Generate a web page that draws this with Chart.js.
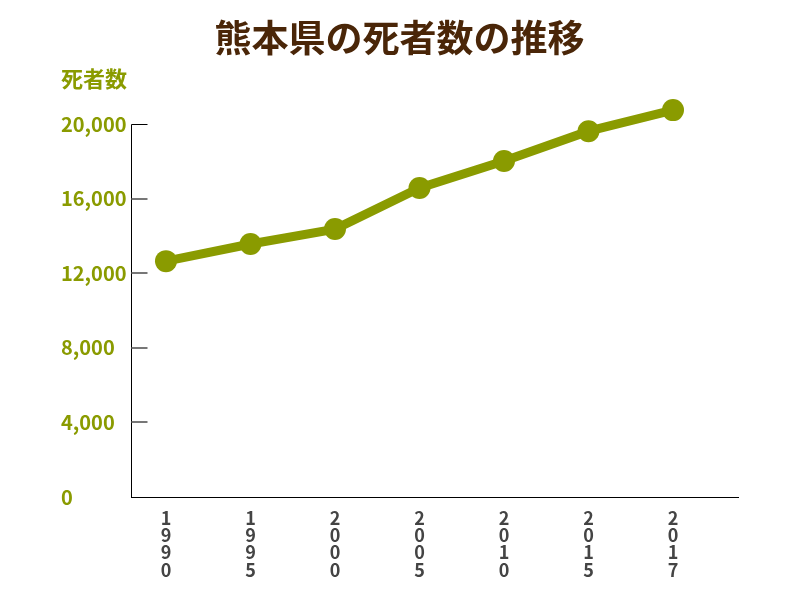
<!DOCTYPE html>
<html lang="ja">
<head>
    <meta charset="UTF-8">
    <title>熊本県の死者数の推移</title>
    <script src="https://cdn.jsdelivr.net/npm/chart.js"></script>
    <style>
        body { margin: 0; background: #fff; }
        .chart-container { width: 800px; height: 600px; }
    </style>
</head>
<body>
    <div class="chart-container">
        <canvas id="deathChart"></canvas>
    </div>

    <script>
        // data
        const years = ['1990', '1995', '2000', '2005', '2010', '2015', '2017'];
        const deaths = [12650, 13570, 14370, 16570, 18020, 19620, 20750];
        const yTickValues = [0, 4000, 8000, 12000, 16000, 20000];

        const olive = '#8a9b00';
        const jpFont = '"Noto Sans CJK JP", "Noto Sans", sans-serif';

        // y axis line only up to 20,000 plus short ticks pointing into the plot
        const yAxisDecor = {
            id: 'yAxisDecor',
            afterDatasetsDraw(chart) {
                const ctx = chart.ctx;
                const y = chart.scales.y;
                const left = Math.round(chart.chartArea.left) + 0.5;
                const topVal = yTickValues[yTickValues.length - 1];
                ctx.save();
                ctx.strokeStyle = '#000';
                ctx.lineWidth = 1;
                ctx.beginPath();
                ctx.moveTo(left, Math.round(y.getPixelForValue(topVal)) + 0.5);
                ctx.lineTo(left, y.getPixelForValue(0));
                ctx.stroke();
                yTickValues.forEach(v => {
                    if (v === 0) return;
                    const py = Math.round(y.getPixelForValue(v));
                    const isTop = v === topVal;
                    ctx.strokeStyle = isTop ? '#000' : '#777';
                    ctx.lineWidth = isTop ? 1 : 2;
                    ctx.beginPath();
                    ctx.moveTo(left, isTop ? py + 0.5 : py);
                    ctx.lineTo(left + 16, isTop ? py + 0.5 : py);
                    ctx.stroke();
                });
                ctx.restore();
            }
        };

        new Chart(document.getElementById('deathChart'), {
            type: 'line',
            data: {
                datasets: [{
                    data: deaths.map((d, i) => ({ x: i, y: d })),
                    borderColor: olive,
                    backgroundColor: olive,
                    borderWidth: 9,
                    pointRadius: 11,
                    pointBackgroundColor: olive,
                    pointBorderWidth: 0,
                    clip: false,
                    tension: 0
                }]
            },
            options: {
                responsive: true,
                maintainAspectRatio: false,
                animation: false,
                layout: { padding: { left: 61, right: 62, top: 0, bottom: 0 } },
                plugins: {
                    legend: { display: false },
                    tooltip: { enabled: false },
                    title: {
                        display: true,
                        text: '熊本県の死者数の推移',
                        color: '#4a2608',
                        font: { family: jpFont, size: 37, weight: 'bold' },
                        padding: { top: 16, bottom: 5 }
                    },
                    subtitle: {
                        display: true,
                        text: '死者数',
                        align: 'start',
                        color: olive,
                        font: { family: jpFont, size: 22, weight: 'bold' },
                        padding: { top: 0, bottom: -5 }
                    }
                },
                scales: {
                    x: {
                        type: 'linear',
                        min: -0.414,
                        max: 6.769,
                        afterBuildTicks(scale) {
                            scale.ticks = years.map((_, i) => ({ value: i }));
                        },
                        afterFit(scale) { scale.height = 103; },
                        grid: { display: false, drawTicks: false },
                        border: { display: true, color: '#000', width: 1 },
                        ticks: {
                            maxRotation: 0,
                            autoSkip: false,
                            padding: 12,
                            color: '#444',
                            font: { family: jpFont, size: 18, weight: 'bold', lineHeight: 0.97 },
                            callback: (v) => years[v] ? years[v].split('') : ''
                        }
                    },
                    y: {
                        min: 0,
                        max: 22000,
                        afterBuildTicks(scale) {
                            scale.ticks = yTickValues.map(v => ({ value: v }));
                        },
                        afterFit(scale) { scale.width = 70; },
                        grid: { drawOnChartArea: false, drawTicks: false },
                        border: { display: false },
                        ticks: {
                            crossAlign: 'far',
                            color: olive,
                            font: { family: jpFont, size: 20, weight: 'bold' },
                            callback: (v) => v.toLocaleString('en-US')
                        }
                    }
                }
            },
            plugins: [yAxisDecor]
        });
    </script>
</body>
</html>
